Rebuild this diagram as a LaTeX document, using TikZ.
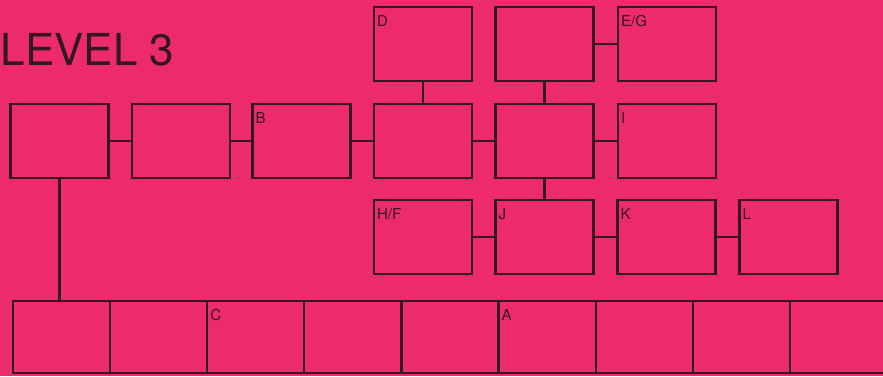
\documentclass[tikz,border=0pt]{standalone}
\usepackage{fontspec}
\setmainfont{TeX Gyre Heros}
\usetikzlibrary{positioning}
\definecolor{pinkbg}{HTML}{EE2A6E}
\definecolor{inkline}{HTML}{33181E}
\begin{document}
\begin{tikzpicture}[x=1pt,y=-1pt,
 box/.style={draw=inkline,line width=2.2pt,minimum width=98pt,minimum height=74pt,inner sep=0pt},
 cell/.style={draw=inkline,line width=2.2pt,minimum width=97.1pt,minimum height=72pt,inner sep=0pt},
 tag/.style={anchor=north west,inner sep=0pt,xshift=4pt,yshift=-9pt,font=\fontsize{15}{15}\selectfont,text=inkline},
 l/.style={line width=2.2pt,inkline}]
\fill[pinkbg] (0,0) rectangle (883,376);
\useasboundingbox (0,0) rectangle (883,376);
\clip (0,0) rectangle (883,376);
\node[anchor=base west,inner sep=0pt,text=inkline,font=\fontsize{44}{44}\selectfont] (title) at (0.5,65) {LEVEL 3};

\node[box,label={[tag]north west:D}] (d) at (423,44) {};
\node[box] (t5) at (544.5,44) {};
\node[box,label={[tag]north west:E/G}] (eg) at (667,44) {};

\node[box] (b1) at (59.5,141) {};
\node[box] (b2) at (181,141) {};
\node[box,label={[tag]north west:B}] (b) at (301.5,141) {};
\node[box] (b4) at (423,141) {};
\node[box] (b5) at (544.5,141) {};
\node[box,label={[tag]north west:I}] (i) at (667,141) {};

\node[box,label={[tag]north west:H/F}] (hf) at (423,237) {};
\node[box,label={[tag]north west:J}] (j) at (544.5,237) {};
\node[box,label={[tag]north west:K}] (k) at (666.5,237) {};
\node[box,label={[tag]north west:L}] (lb) at (788.5,237) {};

\foreach \i/\t in {0/,1/,2/C,3/,4/,5/A,6/,7/,8/,9/}
 \node[cell,label={[tag]north west:\t}] (c\i) at ({61.55+97.1*\i},337) {};

\draw[l] (b1)--(b2);
\draw[l] (b2)--(b);
\draw[l] (b)--(b4);
\draw[l] (b4)--(b5);
\draw[l] (b5)--(i);
\draw[l] (t5)--(eg);
\draw[l] (d)--(b4);
\draw[l] (t5)--(b5);
\draw[l] (b5)--(j);
\draw[l] (hf)--(j);
\draw[l] (j)--(k);
\draw[l] (k)--(lb);
\draw[l] (b1.south)--(b1.south |- c0.north);
\end{tikzpicture}
\end{document}
